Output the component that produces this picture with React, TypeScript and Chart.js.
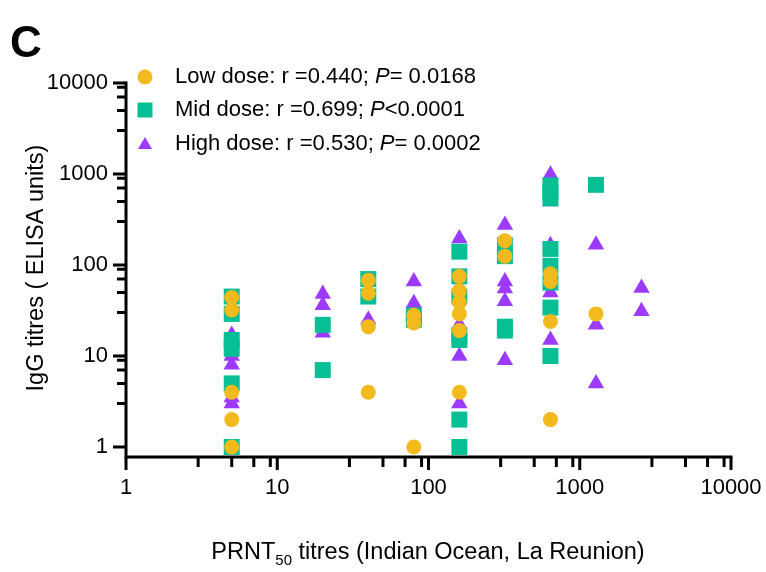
import React, { useEffect, useRef } from 'react';
import { Chart, registerables } from 'chart.js';

Chart.register(...registerables);

const FONT = "'Liberation Sans', Arial, Helvetica, sans-serif";

// ---- data (PRNT50 titre, IgG titre) ----
const lowX = [5, 5, 5, 5, 5, 40, 40, 40, 40, 80, 80, 80, 160, 160, 160, 160, 160, 160, 320, 320, 640, 640, 640, 640, 1280];
const lowY = [44, 32, 4, 2, 1, 68, 49, 21, 4, 28, 23, 1, 75, 52, 39, 29, 19, 4, 185, 125, 80, 66, 24, 2, 29];

const midX = [5, 5, 5, 5, 5, 5, 20, 20, 40, 40, 80, 80, 160, 160, 160, 160, 160, 160, 160, 320, 320, 320, 320, 640, 640, 640, 640, 640, 640, 640, 640, 1280];
const midY = [45, 29, 15, 12, 5, 1, 22, 7, 70, 45, 28, 25, 140, 75, 45, 17, 15, 2, 1, 165, 125, 21, 19, 750, 640, 540, 150, 98, 64, 34, 10, 760];

const highX = [5, 5, 5, 5, 5, 20, 20, 20, 40, 80, 80, 160, 160, 160, 160, 320, 320, 320, 320, 320, 640, 640, 640, 640, 640, 1280, 1280, 1280, 2560, 2560];
const highY = [17, 10, 8, 3.5, 3, 48, 36, 18, 25, 66, 38, 195, 22, 10, 3, 275, 66, 55, 40, 9, 980, 500, 165, 50, 15, 167, 22, 5, 56, 31];

// ---- legend / labels ----
const seriesNames = ['Low dose', 'Mid dose', 'High dose'];
const rValues = ['0.440', '0.699', '0.530'];
const pTexts = ['= 0.0168', '<0.0001', '= 0.0002'];
const seriesColors = ['#F2BA1C', '#06BF95', '#9C3BFF'];
const seriesShapes = ['circle', 'rect', 'triangle'];

const majorTicks = [1, 10, 100, 1000, 10000];
const minorMultipliers = [3, 5, 7, 9];

const xTitleMain = 'PRNT';
const xTitleSub = '50';
const xTitleRest = ' titres (Indian Ocean, La Reunion)';
const yTitle = 'IgG titres ( ELISA units)';
const panelLabel = 'C';

const toPoints = (xs: number[], ys: number[]) => xs.map((x, i) => ({ x, y: ys[i] }));

const minorValues = (maxV: number) => {
  const out: number[] = [];
  for (const m of majorTicks) {
    for (const k of minorMultipliers) {
      const v = m * k;
      if (v < maxV) out.push(v);
    }
  }
  return out;
};

const overlay = {
  id: 'overlay',
  beforeDatasetsDraw(chart: any) {
    const ctx = chart.ctx;
    const xs = chart.scales.x;
    const ys = chart.scales.y;
    const { left, right, top, bottom } = chart.chartArea;
    ctx.save();
    ctx.strokeStyle = '#000';
    ctx.lineWidth = 3;
    ctx.lineCap = 'butt';
    ctx.beginPath();
    ctx.moveTo(left, top - 1.5);
    ctx.lineTo(left, bottom + 1.5);
    ctx.moveTo(left - 1.5, bottom);
    ctx.lineTo(right + 1.5, bottom);
    ctx.stroke();
    ctx.beginPath();
    for (const m of majorTicks) {
      const py = ys.getPixelForValue(m);
      ctx.moveTo(left - 13, py);
      ctx.lineTo(left, py);
      const px = xs.getPixelForValue(m);
      ctx.moveTo(px, bottom);
      ctx.lineTo(px, bottom + 13);
    }
    for (const v of minorValues(10000)) {
      const py = ys.getPixelForValue(v);
      ctx.moveTo(left - 9, py);
      ctx.lineTo(left, py);
      const px = xs.getPixelForValue(v);
      ctx.moveTo(px, bottom);
      ctx.lineTo(px, bottom + 10);
    }
    ctx.stroke();
    ctx.restore();
  },
  afterDraw(chart: any) {
    const ctx = chart.ctx;
    ctx.save();
    ctx.fillStyle = '#000';

    // panel label
    ctx.font = `bold 44px ${FONT}`;
    ctx.textAlign = 'left';
    ctx.textBaseline = 'alphabetic';
    ctx.fillText(panelLabel, 10, 57);

    // legend
    const legendY = [77, 110, 144];
    for (let i = 0; i < 3; i++) {
      const cx = 145;
      const cy = legendY[i];
      ctx.fillStyle = seriesColors[i];
      ctx.beginPath();
      if (seriesShapes[i] === 'circle') {
        ctx.arc(cx, cy, 7.5, 0, Math.PI * 2);
      } else if (seriesShapes[i] === 'rect') {
        ctx.rect(cx - 7.5, cy - 7.5, 15, 15);
      } else {
        ctx.moveTo(cx, cy - 7);
        ctx.lineTo(cx + 7, cy + 5);
        ctx.lineTo(cx - 7, cy + 5);
        ctx.closePath();
      }
      ctx.fill();
      ctx.fillStyle = '#000';
      ctx.textBaseline = 'middle';
      ctx.textAlign = 'left';
      let tx = 175;
      ctx.font = `22px ${FONT}`;
      const part1 = `${seriesNames[i]}: r =${rValues[i]}; `;
      ctx.fillText(part1, tx, cy);
      tx += ctx.measureText(part1).width;
      ctx.font = `italic 22px ${FONT}`;
      ctx.fillText('P', tx, cy);
      tx += ctx.measureText('P').width;
      ctx.font = `22px ${FONT}`;
      ctx.fillText(pTexts[i], tx, cy);
    }

    // x title with subscript
    const mainFont = `23.5px ${FONT}`;
    const subFont = `15px ${FONT}`;
    ctx.font = mainFont;
    const w1 = ctx.measureText(xTitleMain).width;
    const w3 = ctx.measureText(xTitleRest).width;
    ctx.font = subFont;
    const w2 = ctx.measureText(xTitleSub).width;
    const total = w1 + w2 + w3;
    let x0 = 428 - total / 2;
    const yb = 559;
    ctx.textBaseline = 'alphabetic';
    ctx.font = mainFont;
    ctx.fillText(xTitleMain, x0, yb);
    x0 += w1;
    ctx.font = subFont;
    ctx.fillText(xTitleSub, x0, yb + 6);
    x0 += w2;
    ctx.font = mainFont;
    ctx.fillText(xTitleRest, x0, yb);

    // y title
    ctx.translate(37, 268);
    ctx.rotate(-Math.PI / 2);
    ctx.font = `23.5px ${FONT}`;
    ctx.textAlign = 'center';
    ctx.textBaseline = 'middle';
    ctx.fillText(yTitle, 0, 0);
    ctx.restore();
  },
};

export default function App() {
  const canvasRef = useRef<HTMLCanvasElement | null>(null);

  useEffect(() => {
    const canvas = canvasRef.current;
    if (!canvas) return;
    const labelOnlyMajor = (v: any) => (majorTicks.includes(Number(v)) ? String(v) : '');
    const setTicks = (scale: any) => {
      const vals = [...majorTicks, ...minorValues(10000)].sort((a, b) => a - b);
      scale.ticks = vals.map((v) => ({ value: v, major: majorTicks.includes(v) }));
    };
    const zeroPad = (s: any) => {
      s.paddingLeft = 0;
      s.paddingRight = 0;
      s.paddingTop = 0;
      s.paddingBottom = 0;
    };
    const chart = new Chart(canvas, {
      type: 'scatter',
      data: {
        datasets: [
          {
            label: seriesNames[0],
            data: toPoints(lowX, lowY),
            backgroundColor: seriesColors[0],
            borderWidth: 0,
            pointStyle: 'circle',
            pointRadius: 7.5,
            clip: false,
          },
          {
            label: seriesNames[1],
            data: toPoints(midX, midY),
            backgroundColor: seriesColors[1],
            borderWidth: 0,
            pointStyle: 'rect',
            pointRadius: 11.3,
            clip: false,
          },
          {
            label: seriesNames[2],
            data: toPoints(highX, highY),
            backgroundColor: seriesColors[2],
            borderWidth: 0,
            pointStyle: 'triangle',
            pointRadius: 9.5,
            clip: false,
          },
        ],
      },
      options: {
        responsive: false,
        animation: false,
        devicePixelRatio: 1,
        layout: { padding: { top: 83, right: 35, left: 0, bottom: 0 } },
        plugins: { legend: { display: false }, tooltip: { enabled: false } },
        scales: {
          x: {
            type: 'logarithmic',
            min: 1,
            max: 10000,
            afterBuildTicks: setTicks,
            afterFit: (s: any) => {
              s.height = 115;
              zeroPad(s);
            },
            grid: { display: false, drawTicks: false },
            border: { display: false },
            ticks: {
              autoSkip: false,
              maxRotation: 0,
              padding: 18,
              color: '#000',
              font: { family: FONT, size: 22 },
              callback: labelOnlyMajor,
            },
          },
          y: {
            type: 'logarithmic',
            min: 0.776,
            max: 10000,
            afterBuildTicks: setTicks,
            afterFit: (s: any) => {
              s.width = 126;
              zeroPad(s);
            },
            grid: { display: false, drawTicks: false },
            border: { display: false },
            ticks: {
              autoSkip: false,
              padding: 18,
              color: '#000',
              font: { family: FONT, size: 22 },
              callback: labelOnlyMajor,
            },
          },
        },
      },
      plugins: [overlay],
    } as any);
    return () => chart.destroy();
  }, []);

  return (
    <div style={{ position: 'fixed', left: 0, top: 0, width: 766, height: 572, background: '#fff' }}>
      <canvas ref={canvasRef} width={766} height={572} />
    </div>
  );
}
